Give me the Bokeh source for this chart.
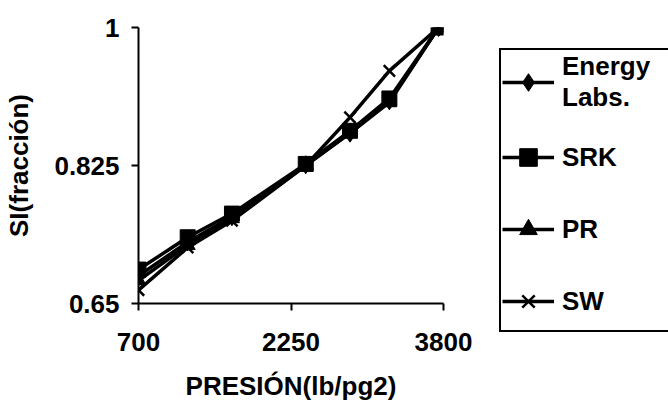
from bokeh.plotting import figure
from bokeh.models import Range1d, FixedTicker, Legend, LegendItem
from bokeh.embed import file_html
from bokeh.resources import INLINE

# Pressure (lb/pg2) and SI fraction for each correlation
presion = [700, 1200, 1650, 2400, 2850, 3250, 3750]
energy_labs = [0.685, 0.728, 0.760, 0.826, 0.866, 0.907, 1.0]
srk = [0.693, 0.734, 0.764, 0.827, 0.869, 0.910, 1.0]
pr = [0.679, 0.724, 0.758, 0.825, 0.866, 0.905, 1.0]
sw = [0.667, 0.721, 0.755, 0.825, 0.886, 0.945, 1.0]

series_names = ["Energy\nLabs.", "SRK", "PR", "SW"]
series_markers = ["diamond", "square", "triangle", "x"]
x_ticks = [700, 2250, 3800]
y_ticks = [0.65, 0.825, 1.0]
y_tick_labels = {0.65: "0.65", 0.825: "0.825", 1.0: "1"}

FONT = "Liberation Sans"
FS = "26px"

p = figure(frame_width=305, frame_height=276, output_backend="svg", toolbar_location=None,
           x_range=Range1d(700, 3800), y_range=Range1d(0.65, 1.0),
           min_border_left=138, min_border_right=225, min_border_top=27,
           min_border_bottom=102)
p.outline_line_color = None
p.xgrid.visible = False
p.ygrid.visible = False
p.background_fill_color = "white"
p.border_fill_color = "white"

for ax in (p.xaxis[0], p.yaxis[0]):
    ax.axis_line_width = 2
    ax.axis_line_color = "black"
    ax.major_tick_line_width = 2
    ax.major_tick_line_color = "black"
    ax.major_tick_in = 0
    ax.major_tick_out = 7
    ax.minor_tick_line_color = None
    ax.major_label_text_font = FONT
    ax.major_label_text_font_style = "bold"
    ax.major_label_text_font_size = FS
    ax.major_label_text_color = "black"
    ax.axis_label_text_font = FONT
    ax.axis_label_text_font_style = "bold"
    ax.axis_label_text_font_size = FS
    ax.axis_label_text_color = "black"

p.xaxis.ticker = FixedTicker(ticks=x_ticks)
p.yaxis.ticker = FixedTicker(ticks=y_ticks)
p.yaxis.major_label_overrides = y_tick_labels
p.xaxis.major_label_standoff = 22
p.yaxis.major_label_standoff = 12
p.xaxis.axis_label = "PRESIÓN(lb/pg2)"
p.yaxis.axis_label = "SI(fracción)"
p.xaxis.axis_label_standoff = 17
p.yaxis.axis_label_standoff = 17

all_series = [energy_labs, srk, pr, sw]
line_renderers = []
for ys in all_series:
    line_renderers.append(p.line(presion, ys, line_color="black", line_width=3.5))

marker_renderers = []
for ys, mk in zip(all_series, series_markers):
    if mk == "x":
        r = p.scatter(presion, ys, marker="x", size=16, line_color="black", line_width=2.5)
    else:
        sz = {"diamond": 18, "square": 15, "triangle": 15}[mk]
        r = p.scatter(presion, ys, marker=mk, size=sz, fill_color="black", line_color="black")
    marker_renderers.append(r)

items = [LegendItem(label=name, renderers=[lr, mr])
         for name, lr, mr in zip(series_names, line_renderers, marker_renderers)]

legend = Legend(items=items, location=(56, -29), orientation="vertical",
                border_line_color="black", border_line_width=2, border_line_alpha=1.0,
                background_fill_color="white", background_fill_alpha=1.0,
                padding=1, margin=0, spacing=16,
                glyph_width=52, glyph_height=44, label_height=56,
                label_standoff=8, label_width=110,
                label_text_font=FONT, label_text_font_style="bold",
                label_text_font_size=FS, label_text_color="black")
p.add_layout(legend, "right")

open("out.html", "w").write(file_html(p, INLINE))
